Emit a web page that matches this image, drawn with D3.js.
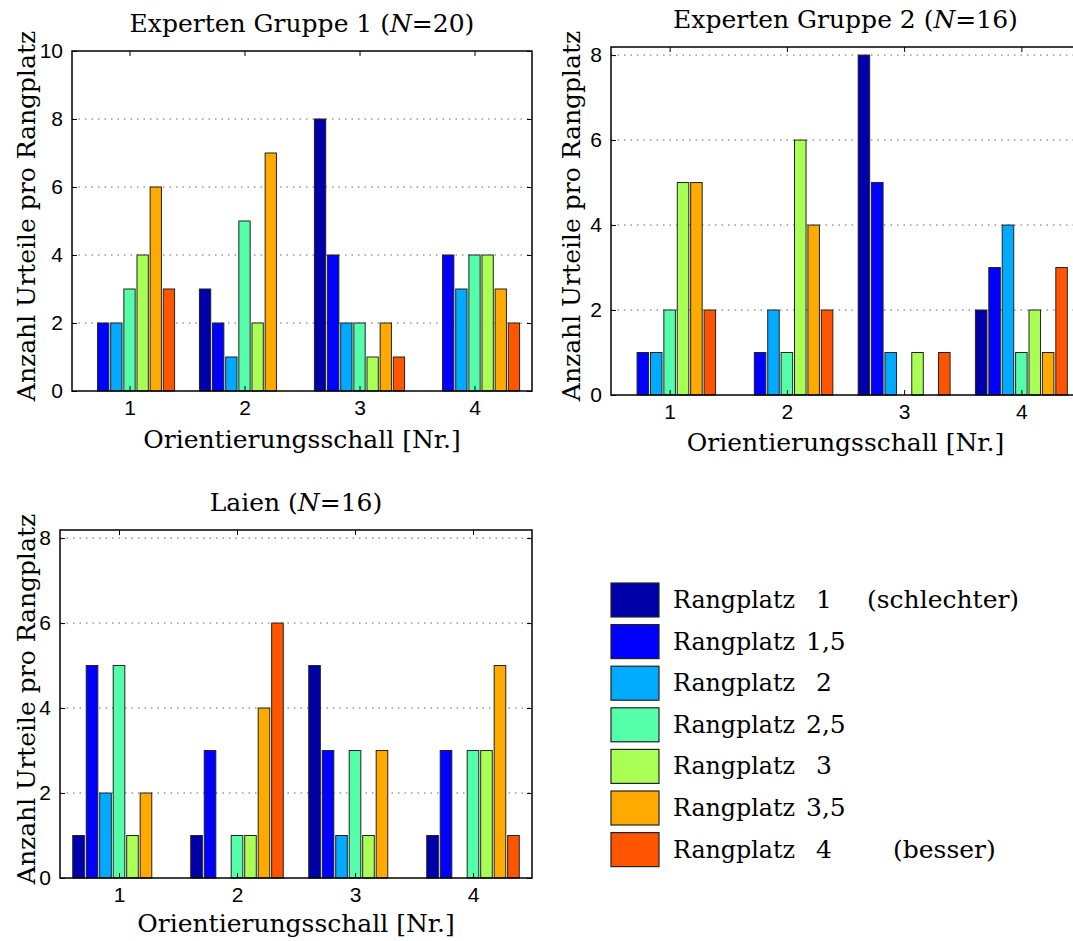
<!DOCTYPE html>
<html>
<head>
<meta charset="utf-8">
<script src="https://cdn.jsdelivr.net/npm/d3@7"></script>
<style>
body{margin:0;background:#fff;}
.tick-label{font-family:"Liberation Sans",Arial,sans-serif;font-size:21px;fill:#000;}
.serif{font-family:"DejaVu Serif",serif;font-size:25px;fill:#000;}
</style>
</head>
<body>
<svg id="chart"></svg>
<script>
// Orientierungsschall 1..4, je 7 Rangplatz-Stufen
var categories=[1,2,3,4];
var rankLabels=["1","1,5","2","2,5","3","3,5","4"];
var rankNotes=["(schlechter)","","","","","","(besser)"];
var colors=["#0000aa","#0000ff","#00aaff","#55ffaa","#aaff55","#ffaa00","#ff5500"];

var expert1=[[0,2,2,3,4,6,3],[3,2,1,5,2,7,0],[8,4,2,2,1,2,1],[0,4,3,4,4,3,2]];
var expert2=[[0,1,1,2,5,5,2],[0,1,2,1,6,4,2],[8,5,1,0,1,0,1],[2,3,4,1,2,1,3]];
var laien=[[1,5,2,5,1,2,0],[1,3,0,1,1,4,6],[5,3,1,3,1,3,0],[1,3,0,3,3,5,1]];

var yTicks1=[0,2,4,6,8,10];
var yTicks2=[0,2,4,6,8];

var w=1073,h=941;
var svg=d3.select("#chart").attr("width",w).attr("height",h);
svg.append("rect").attr("width",w).attr("height",h).attr("fill","#fff");

var panels=[
  {title:["Experten Gruppe 1 (","N","=20)"],data:expert1,ymax:10,ticks:yTicks1,
   left:72,right:532,top:51,bottom:391,titleY:32,xlabY:448,ylabX:35},
  {title:["Experten Gruppe 2 (","N","=16)"],data:expert2,ymax:8.19,ticks:yTicks2,
   left:611,right:1080,top:47,bottom:395,titleY:28,xlabY:451,ylabX:580},
  {title:["Laien (","N","=16)"],data:laien,ymax:8.19,ticks:yTicks2,
   left:60,right:532,top:530,bottom:878,titleY:511,xlabY:932,ylabX:35}
];

var nSer=rankLabels.length;
var slot=0.8/nSer;

panels.forEach(function(p){
  var xScale=d3.scaleLinear().domain([0.5,4.5]).range([p.left,p.right]);
  var yScale=d3.scaleLinear().domain([0,p.ymax]).range([p.bottom,p.top]);
  var g=svg.append("g");

  // dotted grid
  g.selectAll(".grid").data(p.ticks.filter(function(t){return t>0&&t<p.ymax;}))
   .enter().append("line")
   .attr("x1",p.left).attr("x2",p.right)
   .attr("y1",function(d){return yScale(d);}).attr("y2",function(d){return yScale(d);})
   .attr("stroke","#666").attr("stroke-width",1).attr("stroke-dasharray","1.5,5");

  // bars
  var flat=[];
  p.data.forEach(function(row,i){
    row.forEach(function(v,j){flat.push({c:categories[i],s:j,v:v});});
  });
  g.selectAll(".bar").data(flat.filter(function(d){return d.v>0;}))
   .enter().append("rect")
   .attr("x",function(d){return xScale(d.c+(d.s-3)*slot-slot*0.43);})
   .attr("width",function(d){return xScale(d.c+slot*0.43)-xScale(d.c-slot*0.43);})
   .attr("y",function(d){return yScale(d.v);})
   .attr("height",function(d){return yScale(0)-yScale(d.v);})
   .attr("fill",function(d){return colors[d.s];})
   .attr("stroke","#222").attr("stroke-width",1);

  // axes box with inward ticks
  var xAxisB=d3.axisBottom(xScale).tickValues(categories).tickSizeInner(-5).tickSizeOuter(0).tickPadding(9).tickFormat(d3.format("d"));
  var xAxisT=d3.axisTop(xScale).tickValues(categories).tickSizeInner(-5).tickSizeOuter(0).tickFormat("");
  var yAxisL=d3.axisLeft(yScale).tickValues(p.ticks).tickSizeInner(-5).tickSizeOuter(0).tickPadding(9).tickFormat(d3.format("d"));
  var yAxisR=d3.axisRight(yScale).tickValues(p.ticks).tickSizeInner(-5).tickSizeOuter(0).tickFormat("");

  var ax=[
    g.append("g").attr("transform","translate(0,"+p.bottom+")").call(xAxisB),
    g.append("g").attr("transform","translate(0,"+p.top+")").call(xAxisT),
    g.append("g").attr("transform","translate("+p.left+",0)").call(yAxisL),
    g.append("g").attr("transform","translate("+p.right+",0)").call(yAxisR)
  ];
  ax.forEach(function(a){
    a.select(".domain").remove();
    a.attr("font-size",null).attr("font-family",null);
    a.selectAll("line").attr("stroke","#000").attr("stroke-width",1);
    a.selectAll("text").attr("class","tick-label").attr("fill",null);
  });
  g.append("rect").attr("x",p.left).attr("y",p.top)
   .attr("width",p.right-p.left).attr("height",p.bottom-p.top)
   .attr("fill","none").attr("stroke","#000").attr("stroke-width",1.5);

  // title
  var t=svg.append("text").attr("class","serif").attr("x",(p.left+p.right)/2).attr("y",p.titleY)
   .attr("text-anchor","middle");
  t.append("tspan").text(p.title[0]);
  t.append("tspan").attr("font-style","italic").text(p.title[1]);
  t.append("tspan").text(p.title[2]);

  svg.append("text").attr("class","serif").attr("x",(p.left+p.right)/2).attr("y",p.xlabY)
   .attr("text-anchor","middle").text("Orientierungsschall [Nr.]");

  svg.append("text").attr("class","serif")
   .attr("transform","translate("+p.ylabX+","+((p.top+p.bottom)/2-5)+") rotate(-90)")
   .attr("text-anchor","middle").text("Anzahl Urteile pro Rangplatz");
});

// legend
var leg=svg.append("g").attr("transform","translate(611,583)");
var items=leg.selectAll(".item").data(rankLabels).enter().append("g")
  .attr("transform",function(d,i){return "translate(0,"+(i*41.6)+")";});
items.append("rect").attr("width",48).attr("height",34)
  .attr("fill",function(d,i){return colors[i];}).attr("stroke","#222").attr("stroke-width",1.2);
items.append("text").attr("class","serif").attr("x",62).attr("y",25)
  .attr("textLength",122).attr("lengthAdjust","spacingAndGlyphs").text("Rangplatz");
items.append("text").attr("class","serif")
  .attr("x",function(d){return d.length>1?195:205;}).attr("y",25).text(function(d){return d;});
items.append("text").attr("class","serif")
  .attr("x",function(d,i){return i==0?256:282;}).attr("y",25).text(function(d,i){return rankNotes[i];});
</script>
</body>
</html>
